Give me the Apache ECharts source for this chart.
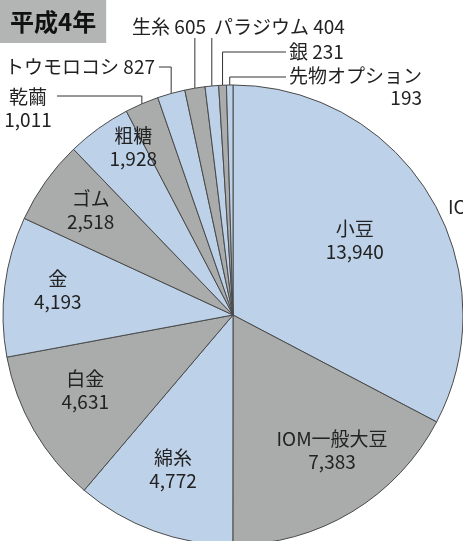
<!DOCTYPE html>
<html>
<head>
<meta charset="utf-8">
<script src="https://cdn.jsdelivr.net/npm/echarts@6/dist/echarts.min.js"></script>
<style>
  html, body { margin: 0; padding: 0; background: #fff; }
  #main { width: 463px; height: 541px; }
</style>
</head>
<body>
<div id="main"></div>
<script>
// 平成4年 取引高 (clockwise from 12 o'clock)
const categories = ['小豆', 'IOM一般大豆', '綿糸', '白金', '金', 'ゴム', '粗糖',
                    '乾繭', 'トウモロコシ', '生糸', 'パラジウム', '銀', '先物オプション'];
const values = [13940, 7383, 4772, 4631, 4193, 2518, 1928, 1011, 827, 605, 404, 231, 193];
const titleText = '平成4年';

const BLUE = '#bdd1e8';
const GRAY = '#aaacac';
const CENTER = [233, 315];
const RADIUS = 230;
const FONT = '"Noto Sans CJK JP", "Noto Sans", sans-serif';
const FS = 19;

const fmt = (v) => v.toLocaleString('en-US');

// inner labels: distance from centre and small turn (deg) off the slice middle
const inner = {
  '小豆':        { r: 143, da: -0.5 },
  'IOM一般大豆': { r: 168, da: -5 },
  '綿糸':        { r: 166, da: 1 },
  '白金':        { r: 166, da: 3 },
  '金':          { r: 177, da: 1 },
  'ゴム':        { r: 177, da: 1 },
  '粗糖':        { r: 195, da: 5 }
};

// outside labels: text anchor + elbow of the leader line
const outside = {
  '乾繭':         { x: 28,  y: 108, align: 'center', va: 'middle', ly: 96, lx: 57 },
  'トウモロコシ': { x: 155, y: 67,  align: 'right',  va: 'middle', ly: 67, lx: 159 },
  '生糸':         { x: 206, y: 27,  align: 'right',  va: 'middle', ly: 38 },
  'パラジウム':   { x: 214, y: 27,  align: 'left',   va: 'middle', ly: 38 },
  '銀':           { x: 289, y: 52,  align: 'left',   va: 'middle', ly: 52, lx: 286 },
  '先物オプション': { x: 289, y: 65, align: 'left',  va: 'top',    ly: 77, lx: 286 }
};

const data = categories.map((name, i) => {
  let item = {
    name: name,
    value: values[i],
    itemStyle: { color: i % 2 == 0 ? BLUE : GRAY }
  };
  if (outside[name]) {
    let text;
    if (name == '乾繭') text = name + '\n' + fmt(values[i]);
    else if (name == '先物オプション') text = '{a|' + name + '}\n{b|' + fmt(values[i]) + '}';
    else text = name + ' ' + fmt(values[i]);
    item.label = { position: 'outside', formatter: text };
    item.labelLine = { show: true };
  } else {
    item.label = { position: 'inside', formatter: name + '\n' + fmt(values[i]) };
    item.labelLine = { show: false };
  }
  return item;
});

const chart = echarts.init(document.getElementById('main'), null, { renderer: 'canvas' });

const option = {
  animation: false,
  backgroundColor: '#ffffff',
  title: {
    text: titleText,
    left: 0,
    top: 0,
    padding: [9, 10, 9, 10],
    backgroundColor: '#b3b5b5',
    textStyle: { fontFamily: FONT, fontSize: 24, fontWeight: 'bold', color: '#111', lineHeight: 25 }
  },
  graphic: [{
    type: 'text',
    left: 448,
    top: 197,
    style: { text: 'IO', font: FS + 'px ' + FONT, fill: '#222' }
  }],
  series: [{
    type: 'pie',
    center: CENTER,
    radius: RADIUS,
    startAngle: 90,
    clockwise: true,
    avoidLabelOverlap: false,
    silent: true,
    itemStyle: { borderColor: '#4a4a4a', borderWidth: 1 },
    label: {
      show: true,
      fontFamily: FONT,
      fontSize: FS,
      lineHeight: 23,
      color: '#222',
      rich: {
        a: { fontFamily: FONT, fontSize: FS, lineHeight: 22, color: '#222' },
        b: { fontFamily: FONT, fontSize: FS, lineHeight: 22, color: '#222', align: 'right' }
      }
    },
    labelLine: { smooth: false, lineStyle: { color: '#333', width: 1 } },
    data: data,
    labelLayout: function (params) {
      const name = categories[params.dataIndex];
      const o = outside[name];
      if (o) {
        const p0 = params.labelLinePoints[0];
        const pts = [[p0[0], p0[1]], [p0[0], o.ly]];
        if (o.lx != null) pts.push([o.lx, o.ly]);
        return { x: o.x, y: o.y, align: o.align, verticalAlign: o.va, labelLinePoints: pts };
      }
      const r = params.labelRect;
      const mx = r.x + r.width / 2 - CENTER[0];
      const my = r.y + r.height / 2 - CENTER[1];
      const p = inner[name];
      const a = Math.atan2(mx, -my) + p.da * Math.PI / 180;
      return {
        x: CENTER[0] + Math.sin(a) * p.r,
        y: CENTER[1] - Math.cos(a) * p.r,
        align: 'center',
        verticalAlign: 'middle'
      };
    }
  }]
};

chart.setOption(option);
</script>
</body>
</html>
